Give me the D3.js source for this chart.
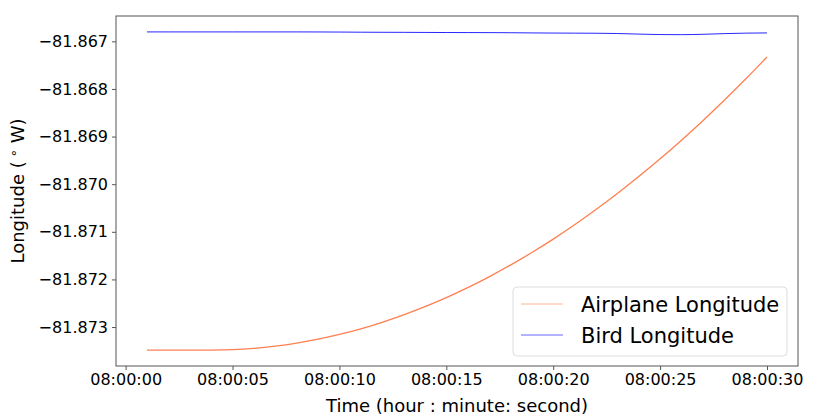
<!DOCTYPE html>
<html>
<head>
<meta charset="utf-8">
<script src="https://cdn.jsdelivr.net/npm/d3@7"></script>
<style>
  html, body { margin: 0; padding: 0; background: #fff; }
  svg { display: block; font-family: "DejaVu Sans", sans-serif; }
</style>
</head>
<body>
<svg id="chart" width="831" height="419"></svg>
<script>
// Time in seconds after 08:00:00
const seconds = [1,2,3,4,5,6,7,8,9,10,11,12,13,14,15,16,17,18,19,20,21,22,23,24,25,26,27,28,29,30];
const airplaneLongitude = [
  -81.873484,-81.873484,-81.873484,-81.873484,-81.873475,
  -81.873448,-81.873402,-81.873338,-81.873256,-81.873156,
  -81.873038,-81.872901,-81.872746,-81.872573,-81.872382,
  -81.872173,-81.871945,-81.871699,-81.871435,-81.871153,
  -81.870852,-81.870533,-81.870196,-81.869841,-81.869468,
  -81.869076,-81.868666,-81.868238,-81.867792,-81.867328
];
const birdLongitude = [
  -81.866802,-81.866802,-81.866802,-81.866802,-81.866802,
  -81.866802,-81.866802,-81.866802,-81.866803,-81.866805,
  -81.866808,-81.866810,-81.866811,-81.866813,-81.866815,
  -81.866816,-81.866817,-81.866819,-81.866823,-81.866826,
  -81.866828,-81.866830,-81.866836,-81.866848,-81.866858,
  -81.866860,-81.866852,-81.866838,-81.866828,-81.866823
];
const xTickSeconds = [0,5,10,15,20,25,30];
const xTickLabels = ["08:00:00","08:00:05","08:00:10","08:00:15","08:00:20","08:00:25","08:00:30"];
const yTicks = [-81.867,-81.868,-81.869,-81.870,-81.871,-81.872,-81.873];
const seriesNames = ["Airplane Longitude","Bird Longitude"];
const seriesColors = ["#FF7F50","#0000FF"];

const svg = d3.select("#chart");
const pLeft = 116, pRight = 798, pTop = 16, pBottom = 366;

// matplotlib-like 5% margins
const tMin = d3.min(seconds), tMax = d3.max(seconds);
const tPad = (tMax - tMin) * 0.05;
const allY = airplaneLongitude.concat(birdLongitude);
const yMin = d3.min(allY), yMax = d3.max(allY);
const yPad = (yMax - yMin) * 0.05;

const x = d3.scaleLinear().domain([tMin - tPad, tMax + tPad]).range([pLeft, pRight]);
const y = d3.scaleLinear().domain([yMin - yPad, yMax + yPad]).range([pBottom, pTop]);

// Lines
const line = d3.line().curve(d3.curveMonotoneX).x((d) => x(d[0])).y((d) => y(d[1]));
[airplaneLongitude, birdLongitude].forEach((vals, i) => {
  svg.append("path")
    .datum(seconds.map((s, j) => [s, vals[j]]))
    .attr("fill", "none")
    .attr("stroke", seriesColors[i])
    .attr("stroke-width", i === 0 ? 1.3 : 1)
    .attr("stroke-opacity", i === 1 ? 0.85 : 1)
    .attr("d", line);
});

// Axes
const xAxis = d3.axisBottom(x).tickValues(xTickSeconds)
  .tickFormat((d, i) => xTickLabels[i]).tickSize(4).tickPadding(4);
const yAxis = d3.axisLeft(y).tickValues(yTicks)
  .tickFormat((d) => d3.format(".3f")(d).replace("-", "\u2212")).tickSize(4).tickPadding(4);

const gx = svg.append("g").attr("transform", `translate(0,${pBottom})`).call(xAxis);
const gy = svg.append("g").attr("transform", `translate(${pLeft},0)`).call(yAxis);
[gx, gy].forEach(g => {
  g.select(".domain").remove();
  g.selectAll(".tick line").attr("stroke", "#555").attr("stroke-width", 1);
  g.selectAll(".tick text").attr("font-size", 16).attr("fill", "#000")
    .attr("font-family", "DejaVu Sans, sans-serif");
});

// Frame
svg.append("rect")
  .attr("x", pLeft).attr("y", pTop)
  .attr("width", pRight - pLeft).attr("height", pBottom - pTop)
  .attr("fill", "none").attr("stroke", "#555").attr("stroke-width", 1);

// Axis labels
svg.append("text")
  .attr("x", (pLeft + pRight) / 2).attr("y", 412)
  .attr("text-anchor", "middle").attr("font-size", 18).attr("fill", "#000")
  .text("Time (hour : minute: second)");

const yl = svg.append("text")
  .attr("transform", `translate(24,${(pTop + pBottom) / 2}) rotate(-90)`)
  .attr("text-anchor", "middle").attr("font-size", 18).attr("fill", "#000");
yl.append("tspan").text("Longitude (");
yl.append("tspan").attr("dy", -6).attr("font-size", 13).text(" \u2218");
yl.append("tspan").attr("dy", 6).text(" W)");

// Legend
const lg = svg.append("g");
lg.append("rect")
  .attr("x", 513).attr("y", 287).attr("width", 274).attr("height", 69)
  .attr("rx", 4).attr("fill", "#fff").attr("fill-opacity", 0.8)
  .attr("stroke", "#ddd").attr("stroke-width", 1);
seriesNames.forEach((name, i) => {
  const cy = 304 + i * 31;
  lg.append("line")
    .attr("x1", 521).attr("x2", 563).attr("y1", cy).attr("y2", cy)
    .attr("stroke", seriesColors[i]).attr("stroke-width", 1)
    .attr("stroke-opacity", 0.6);
  lg.append("text")
    .attr("x", 581).attr("y", cy).attr("dy", "0.36em")
    .attr("font-size", 21).attr("fill", "#000").text(name);
});
</script>
</body>
</html>
